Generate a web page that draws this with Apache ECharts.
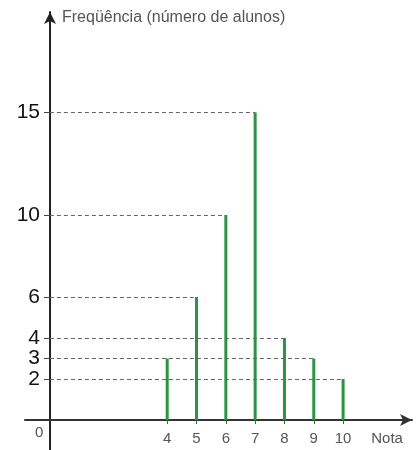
<!DOCTYPE html>
<html><head><meta charset="utf-8">
<script src="https://cdn.jsdelivr.net/npm/echarts@6/dist/echarts.min.js"></script>
<style>html,body{margin:0;padding:0;background:#fff}#c{width:417px;height:450px}</style>
</head><body><div id="c"></div>
<script>
const notas = [4, 5, 6, 7, 8, 9, 10];
const frequencias = [3, 6, 10, 15, 4, 3, 2];
const yTicks = [2, 3, 4, 6, 10, 15];
const xTicks = [4, 5, 6, 7, 8, 9, 10];
const yTitle = 'Freqüência (número de alunos)';
const xTitle = 'Nota';

const chart = echarts.init(document.getElementById('c'));
const pts = notas.map((n, i) => [n, frequencias[i]]);
// split tick labels over two axes so that close labels are not hidden
const yLabelsA = yTicks.filter((v, i) => i % 2 === 0);
const yLabelsB = yTicks.filter((v, i) => i % 2 === 1);
const yLabelStyle = { hideOverlap: false, showMinLabel: true, showMaxLabel: true, color: '#111', fontSize: 21, fontFamily: 'Liberation Sans, Arial', margin: 10 };
chart.setOption({
  animation: false,
  grid: { left: 25, right: 5, top: 12, bottom: 0, outerBoundsMode: 'none', containLabel: false },
  xAxis: {
    type: 'value', min: -0.85, max: 12.35, offset: -30,
    splitLine: { show: false },
    axisLine: { onZero: false, symbol: ['none', 'arrow'], symbolSize: [9, 12], lineStyle: { color: '#333', width: 2 } },
    axisTick: { show: true, customValues: xTicks, length: 4, lineStyle: { color: '#555' } },
    axisLabel: { customValues: xTicks.concat([11.5]), hideOverlap: false, showMinLabel: true, showMaxLabel: true, formatter: v => v > 10.5 ? xTitle : String(v), color: '#555', fontSize: 15, fontFamily: 'Liberation Sans, Arial', margin: 11 }
  },
  yAxis: [{
    type: 'value', min: -1.46, max: 19.9, offset: -25, position: 'left',
    splitLine: { show: false },
    axisLine: { onZero: false, symbol: ['none', 'arrow'], symbolSize: [9, 12], lineStyle: { color: '#222', width: 2 } },
    axisTick: { show: true, customValues: yTicks, length: 6, lineStyle: { color: '#444' } },
    axisLabel: Object.assign({ customValues: yLabelsA }, yLabelStyle),
    name: yTitle, nameLocation: 'end', nameGap: -6,
    nameTextStyle: { align: 'left', verticalAlign: 'middle', padding: [0, 0, 0, 12], color: '#555', fontSize: 16, fontFamily: 'Liberation Sans, Arial' }
  }, {
    type: 'value', min: -1.46, max: 19.9, offset: -25, position: 'left',
    splitLine: { show: false },
    axisLine: { show: false, onZero: false },
    axisTick: { show: false },
    axisLabel: Object.assign({ customValues: yLabelsB }, yLabelStyle)
  }],
  graphic: [{ type: 'text', left: 35, top: 425, style: { text: '0', fill: '#555', font: '15px Liberation Sans, Arial' } }],
  series: [{
    type: 'bar', data: pts, barWidth: 3,
    itemStyle: { color: '#2a9440' },
    markLine: {
      silent: true, symbol: 'none', label: { show: false },
      lineStyle: { type: [4, 3], color: '#666', width: 1 },
      data: pts.map(p => [{ coord: [0, p[1]] }, { coord: [p[0], p[1]] }])
    }
  }]
});
</script></body></html>
